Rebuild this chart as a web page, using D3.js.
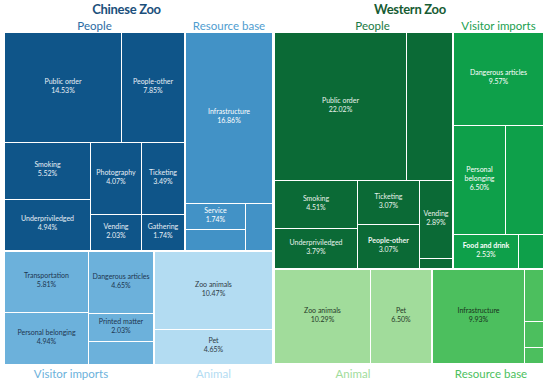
<!DOCTYPE html>
<html><head><meta charset="utf-8">
<script src="https://cdn.jsdelivr.net/npm/d3@7"></script>
<style>body{margin:0;background:#fff}svg{display:block;font-family:Lato,"Open Sans",sans-serif}</style>
</head><body><svg id="c" width="550" height="382"></svg>
<script>
// ---------- DATA ----------
const zooNames = ["Chinese Zoo", "Western Zoo"];
const groupNames = ["People", "Resource base", "Visitor imports", "Animal"];

// Chinese Zoo (share of incidents, %)
const cnPeopleCats = ["Public order", "People-other", "Smoking", "Underpriviledged", "Photography", "Ticketing", "Vending", "Gathering"];
const cnPeopleVals = [14.53, 7.85, 5.52, 4.94, 4.07, 3.49, 2.03, 1.74];
const cnResourceCats = ["Infrastructure", "Service", "", ""];
const cnResourceVals = [16.86, 1.74, 1.42, 1.42];
const cnVisitorCats = ["Transportation", "Personal belonging", "Dangerous articles", "Printed matter", ""];
const cnVisitorVals = [5.81, 4.94, 4.65, 2.03, 1.74];
const cnAnimalCats = ["Zoo animals", "Pet"];
const cnAnimalVals = [10.47, 4.65];

// Western Zoo
const wzPeopleCats = ["Public order", "", "Smoking", "Underpriviledged", "Ticketing", "People-other", "Vending", ""];
const wzPeopleVals = [22.02, 7.67, 4.51, 3.79, 3.07, 3.07, 2.89, 0.37];
const wzVisitorCats = ["Dangerous articles", "Personal belonging", "", "Food and drink", ""];
const wzVisitorVals = [9.57, 6.50, 4.72, 2.53, 0.95];
const wzAnimalCats = ["Zoo animals", "Pet"];
const wzAnimalVals = [10.29, 6.50];
const wzResourceCats = ["Infrastructure", "", "", ""];
const wzResourceVals = [9.93, 1.14, 0.56, 0.36];

// ---------- STYLE / LAYOUT ----------
const panels = [
  {x0: 5, y0: 33, x1: 272, y1: 364, titleDx: -12, titleColor: "#1b4f7b"},
  {x0: 275, y0: 33, x1: 543, y1: 363, titleDx: 1, titleColor: "#175c33"}
];
const fills = [
  {"People": "#0f5589", "Resource base": "#4292c6", "Visitor imports": "#6cb1db", "Animal": "#b3dcf2"},
  {"People": "#0b6a36", "Resource base": "#4cbf5e", "Visitor imports": "#0ea04a", "Animal": "#a1dc9b"}
];
const groupLabelColors = [
  {"People": "#2c6ca3", "Resource base": "#4f9dcf", "Visitor imports": "#6cb1db", "Animal": "#b3dcf2"},
  {"People": "#1a7a44", "Resource base": "#4cbf5e", "Visitor imports": "#1aa04f", "Animal": "#a1dc9b"}
];
const textColors = [
  {"People": "#e8eff6", "Resource base": "#ffffff", "Visitor imports": "#1d3550", "Animal": "#2e3a44"},
  {"People": "#e8f3ec", "Resource base": "#17301c", "Visitor imports": "#ffffff", "Animal": "#263a28"}
];
const groupLabelDx = [
  {"Visitor imports": -8},
  {"People": 9, "Resource base": 3}
];
const boldLabels = [[], ["Food and drink", "People-other"]];

function group(cats, vals) {
  return cats.map((c, i) => ({name: c, value: vals[i]}));
}
const trees = [
  {name: zooNames[0], children: [
    {name: groupNames[0], children: group(cnPeopleCats, cnPeopleVals)},
    {name: groupNames[1], children: group(cnResourceCats, cnResourceVals)},
    {name: groupNames[2], children: group(cnVisitorCats, cnVisitorVals)},
    {name: groupNames[3], children: group(cnAnimalCats, cnAnimalVals)}
  ]},
  {name: zooNames[1], children: [
    {name: groupNames[0], children: group(wzPeopleCats, wzPeopleVals)},
    {name: groupNames[1], children: group(wzResourceCats, wzResourceVals)},
    {name: groupNames[2], children: group(wzVisitorCats, wzVisitorVals)},
    {name: groupNames[3], children: group(wzAnimalCats, wzAnimalVals)}
  ]}
];

// ---------- DRAW ----------
const svg = d3.select("#c");
const fmt = v => v.toFixed(2) + "%";
const LABEL_FS = 7, LINE_H = 9;

const measurer = svg.append("text").attr("font-size", LABEL_FS).attr("visibility", "hidden");
function textW(s, bold) {
  measurer.attr("font-weight", bold ? "bold" : "normal").text(s);
  return measurer.node().getComputedTextLength();
}

trees.forEach((tree, zi) => {
  const P = panels[zi];
  const W = P.x1 - P.x0, H = P.y1 - P.y0;
  const root = d3.hierarchy(tree).sum(d => d.value || 0).sort((a, b) => b.value - a.value);
  d3.treemap().tile(d3.treemapSquarify).size([W, H])
    .paddingInner(d => d.depth === 0 ? 2 : 1).round(true)(root);

  const g = svg.append("g").attr("transform", `translate(${P.x0},${P.y0})`);

  // title
  svg.append("text")
    .attr("x", (P.x0 + P.x1) / 2 + P.titleDx).attr("y", 9)
    .attr("text-anchor", "middle").attr("dominant-baseline", "central")
    .attr("font-size", 13).attr("font-weight", "bold").attr("letter-spacing", -0.3)
    .attr("fill", P.titleColor).text(tree.name);

  // leaves
  const leaves = root.leaves();
  g.selectAll("rect").data(leaves).join("rect")
    .attr("x", d => d.x0).attr("y", d => d.y0)
    .attr("width", d => d.x1 - d.x0).attr("height", d => d.y1 - d.y0)
    .attr("fill", d => fills[zi][d.parent.data.name]);

  leaves.filter(d => d.data.name).forEach(d => {
    const bold = boldLabels[zi].includes(d.data.name);
    const cw = d.x1 - d.x0;
    let lines = [d.data.name];
    if (textW(d.data.name, bold) > cw - 4) lines = d.data.name.split(" ");
    lines.push(fmt(d.data.value));
    const cx = (d.x0 + d.x1) / 2, cy = (d.y0 + d.y1) / 2 - 2.5;
    const startY = cy - (lines.length - 1) * LINE_H / 2;
    const t = g.append("text").attr("text-anchor", "middle")
      .attr("font-size", LABEL_FS)
      .attr("fill", textColors[zi][d.parent.data.name]);
    lines.forEach((ln, i) => {
      t.append("tspan").attr("x", cx).attr("y", startY + i * LINE_H)
        .attr("dominant-baseline", "central")
        .attr("font-weight", bold && i === 0 ? "bold" : "normal")
        .text(ln);
    });
  });

  // group labels
  root.children.forEach(gn => {
    const top = gn.y0 < 2;
    const dx = groupLabelDx[zi][gn.data.name] || 0;
    svg.append("text")
      .attr("x", P.x0 + (gn.x0 + gn.x1) / 2 + dx)
      .attr("y", top ? 25 : 373)
      .attr("text-anchor", "middle").attr("dominant-baseline", "central")
      .attr("font-size", 11.5)
      .attr("fill", groupLabelColors[zi][gn.data.name])
      .text(gn.data.name);
  });
});
measurer.remove();
</script>
</body></html>
